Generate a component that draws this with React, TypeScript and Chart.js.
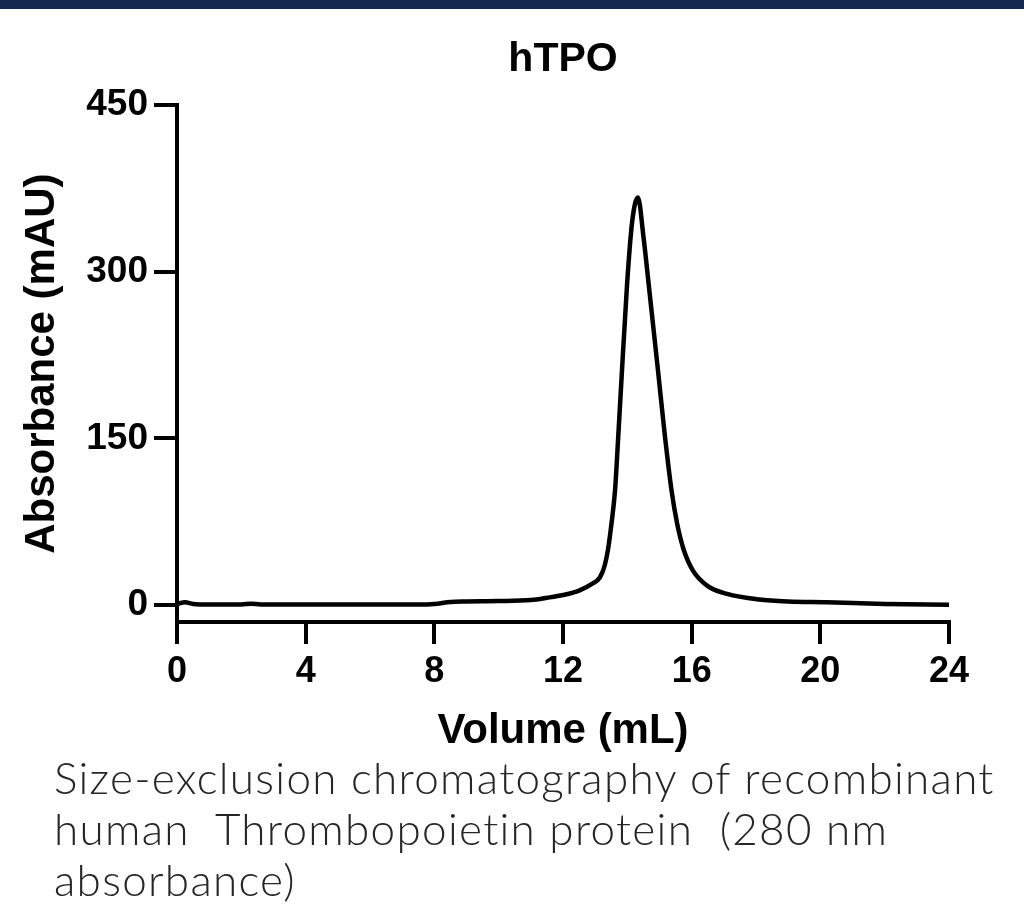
import React, { useEffect, useRef } from "react";
import { Chart, registerables } from "chart.js";

Chart.register(...registerables);

const chartTitle = "hTPO";
const xAxisTitle = "Volume (mL)";
const yAxisTitle = "Absorbance (mAU)";
const captionLines = [
  "Size-exclusion chromatography of recombinant",
  "human  Thrombopoietin protein  (280 nm",
  "absorbance)",
];

const volumeML = [
  0, 0.25, 0.5, 1, 2, 2.3, 2.6, 4, 6, 7.5, 8, 8.5, 9, 10, 11, 11.5, 12, 12.5,
  12.9, 13.15, 13.3, 13.4, 13.51, 13.62, 13.71, 13.8, 13.99, 14.15, 14.33, 14.5,
  14.67, 14.95, 15.15, 15.37, 15.55, 15.75, 16.04, 16.5, 17.1, 18.1, 19, 20.2,
  22, 24,
];
const absorbance = [
  1, 2.5, 1, 0.5, 0.5, 1.2, 0.5, 0.5, 0.5, 0.5, 1, 2.8, 3.2, 3.5, 4.5, 6.5, 9,
  13, 19, 25, 36, 50, 74, 104, 148, 194, 288, 345, 367, 332, 287, 212, 157, 104,
  73, 50, 31, 17, 10, 5, 3.2, 2.5, 1, 0.3,
];

const xTicks = [0, 4, 8, 12, 16, 20, 24];
const yTicks = [0, 150, 300, 450];

const FONT = "'Liberation Sans', Arial, Helvetica, sans-serif";

export default function App() {
  const canvasRef = useRef<HTMLCanvasElement | null>(null);

  useEffect(() => {
    const canvas = canvasRef.current;
    if (!canvas) return;
    const points = volumeML.map((v, i) => ({ x: v, y: absorbance[i] }));
    const chart = new Chart(canvas, {
      type: "line",
      data: {
        datasets: [
          {
            data: points,
            borderColor: "#000000",
            borderWidth: 4.5,
            pointRadius: 0,
            fill: false,
            cubicInterpolationMode: "monotone",
          },
        ],
      },
      options: {
        animation: false,
        responsive: false,
        maintainAspectRatio: false,
        events: [],
        layout: { padding: { left: 0, right: 75, top: 0, bottom: 0 } },
        plugins: {
          legend: { display: false },
          tooltip: { enabled: false },
          title: {
            display: true,
            fullSize: false,
            text: chartTitle,
            color: "#000000",
            font: { family: FONT, size: 41, weight: "bold", lineHeight: 1.2 },
            padding: { top: 35, bottom: 21 },
          },
        },
        scales: {
          x: {
            type: "linear",
            min: 0,
            max: 24,
            afterBuildTicks: (s: any) => {
              s.ticks = xTicks.map((v) => ({ value: v }));
            },
            afterFit: (s: any) => {
              s.height = 138;
            },
            border: { display: true, color: "#000000", width: 4 },
            grid: {
              drawOnChartArea: false,
              drawTicks: true,
              tickLength: 22,
              color: "#000000",
              lineWidth: 4,
            },
            ticks: {
              color: "#000000",
              padding: 6,
              maxRotation: 0,
              font: { family: FONT, size: 36, weight: "bold" },
            },
            title: {
              display: true,
              text: xAxisTitle,
              color: "#000000",
              font: { family: FONT, size: 42, weight: "bold", lineHeight: 1.2 },
              padding: { top: 0, bottom: 3 },
            },
          },
          y: {
            type: "linear",
            min: -15.3,
            max: 450,
            afterBuildTicks: (s: any) => {
              s.ticks = yTicks.map((v) => ({ value: v }));
            },
            afterFit: (s: any) => {
              s.width = 177;
            },
            border: { display: true, color: "#000000", width: 4 },
            grid: {
              drawOnChartArea: false,
              drawTicks: true,
              tickLength: 23,
              color: "#000000",
              lineWidth: 4,
            },
            ticks: {
              color: "#000000",
              padding: 6,
              font: { family: FONT, size: 37, weight: "bold" },
            },
            title: {
              display: true,
              text: yAxisTitle,
              color: "#000000",
              font: { family: FONT, size: 42, weight: "bold", lineHeight: 1.2 },
              padding: { top: 17, bottom: 0 },
            },
          },
        },
      },
    });
    return () => chart.destroy();
  }, []);

  return (
    <div
      style={{
        position: "fixed",
        left: 0,
        top: 0,
        width: 1024,
        height: 905,
        background: "#ffffff",
        overflow: "hidden",
      }}
    >
      <canvas
        ref={canvasRef}
        width={1024}
        height={760}
        style={{ position: "absolute", left: 0, top: 0, width: 1024, height: 760 }}
      />
      <div
        style={{
          position: "absolute",
          left: 0,
          top: 0,
          width: 1024,
          height: 9,
          background: "#14284f",
        }}
      />
      <div
        style={{
          position: "absolute",
          left: 54,
          top: 752,
          fontFamily: "Lato, 'Open Sans', sans-serif",
          fontWeight: 300,
          fontSize: 44,
          lineHeight: "51px",
          letterSpacing: "1.3px",
          color: "#262626",
          whiteSpace: "pre",
        }}
      >
        {captionLines.map((l, i) => (
          <div key={i}>{l}</div>
        ))}
      </div>
    </div>
  );
}
